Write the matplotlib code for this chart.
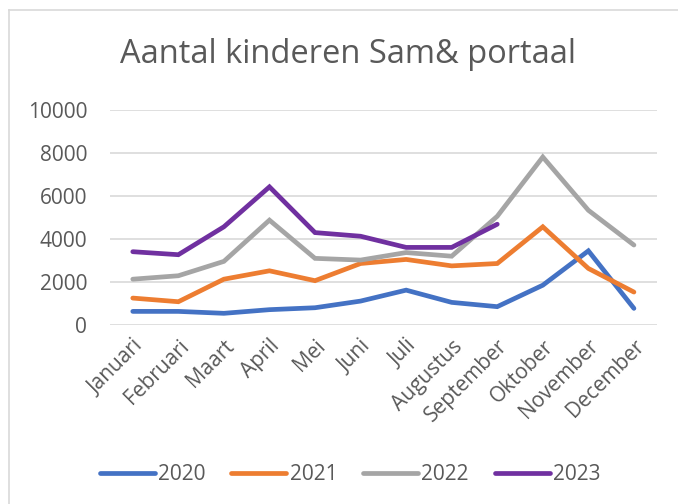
import matplotlib.pyplot as plt
from matplotlib.lines import Line2D

# data
maanden = ['Januari', 'Februari', 'Maart', 'April', 'Mei', 'Juni', 'Juli',
           'Augustus', 'September', 'Oktober', 'November', 'December']
v2020 = [620, 620, 530, 700, 790, 1100, 1610, 1040, 840, 1840, 3440, 760]
v2021 = [1240, 1070, 2120, 2510, 2050, 2850, 3040, 2740, 2850, 4560, 2620, 1520]
v2022 = [2120, 2280, 2950, 4870, 3090, 3010, 3360, 3190, 5050, 7810, 5330, 3710]
v2023 = [3400, 3260, 4560, 6420, 4290, 4120, 3600, 3600, 4680]
jaren = ['2020', '2021', '2022', '2023']
kleuren = ['#4472C4', '#ED7D31', '#A5A5A5', '#7030A0']
yticks = [0, 2000, 4000, 6000, 8000, 10000]

tekst = '#595959'
plt.rcParams['font.family'] = ['Open Sans', 'DejaVu Sans']

fig = plt.figure(figsize=(6.78, 5.04), dpi=100)
ax = fig.add_axes([110 / 678, 1 - 324.7 / 504, (656.7 - 110) / 678, (324.7 - 110) / 504])

x = list(range(len(maanden)))
for reeks, kleur in zip([v2020, v2021, v2022, v2023], kleuren):
    ax.plot(x[:len(reeks)], reeks, color=kleur, lw=3.4, solid_capstyle='round',
            solid_joinstyle='miter', zorder=3)

ax.set_xlim(-0.5, 11.5)
ax.set_ylim(0, 10000)
ax.set_yticks(yticks)
ax.set_yticklabels([str(t) for t in yticks])
ax.grid(axis='y', color='#D9D9D9', lw=1.2)
ax.set_axisbelow(True)
for s in ax.spines.values():
    s.set_visible(False)
ax.tick_params(axis='both', length=0, labelsize=15, labelcolor=tekst)
ax.tick_params(axis='y', pad=16.5)
ax.set_xticks(x)
ax.set_xticklabels(maanden, rotation=45, ha='right', rotation_mode='anchor')
ax.tick_params(axis='x', pad=8)

fig.text(348, 504 - 63.3, 'Aantal kinderen Sam& portaal', transform=None,
         ha='center', va='baseline', fontsize=23.5, color=tekst)

handles = [Line2D([], [], color=k, lw=3.4, solid_capstyle='round') for k in kleuren]
fig.legend(handles, jaren, loc='center', bbox_to_anchor=(350 / 678, 1 - 475 / 504),
           ncol=4, frameon=False, fontsize=15, labelcolor=tekst, handlelength=2.65,
           handletextpad=0.15, columnspacing=1.24)

# chart border (only top and left visible in the crop)
fig.add_artist(Line2D([9 / 678, 9 / 678], [0, 1 - 10 / 504], color='#D9D9D9', lw=1.2))
fig.add_artist(Line2D([9 / 678, 1], [1 - 10 / 504, 1 - 10 / 504], color='#D9D9D9', lw=1.2))

fig.savefig('out.png', dpi=100)
